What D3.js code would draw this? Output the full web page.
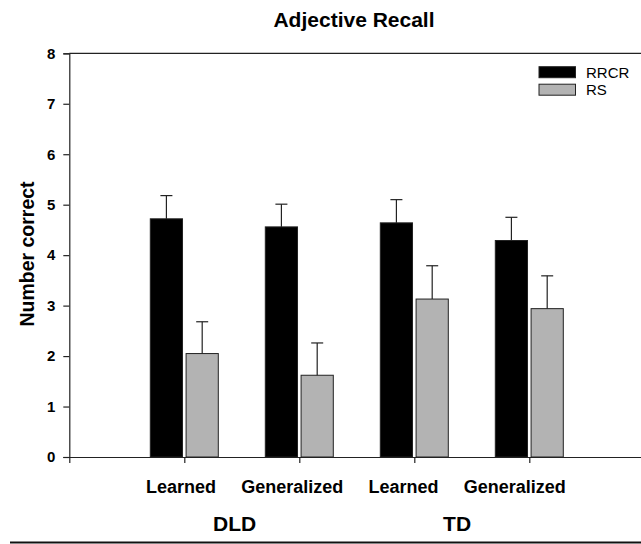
<!DOCTYPE html>
<html>
<head>
<meta charset="utf-8">
<script src="https://cdn.jsdelivr.net/npm/d3@7"></script>
<style>
  html, body { margin: 0; padding: 0; background: #fff; }
  svg { display: block; font-family: Arial, "Liberation Sans", sans-serif; }
</style>
</head>
<body>
<svg id="chart" width="641" height="544"></svg>
<script>
// Mean number of adjectives recalled, with the upper standard error bar
const categories = ["Learned", "Generalized", "Learned", "Generalized"];
const groups = ["DLD", "TD"];
const groupOf = [0, 0, 1, 1];
const seriesNames = ["RRCR", "RS"];
const seriesColors = ["#000000", "#b3b3b3"];
const rrcrMeans = [4.72, 4.56, 4.64, 4.29];
const rrcrErrors = [0.46, 0.45, 0.46, 0.46];
const rsMeans = [2.05, 1.62, 3.13, 2.94];
const rsErrors = [0.63, 0.64, 0.66, 0.65];
const yTicks = [0, 1, 2, 3, 4, 5, 6, 7, 8];

const svg = d3.select("#chart");
const plotLeft = 69.3, plotTop = 53.3, plotBottom = 457;

// Categories sit at positions 1..4 on a 0..5 axis that runs past the right edge
const x = d3.scaleLinear().domain([0, 5]).range([plotLeft, plotLeft + 575]);
const xLabel = d3.scaleLinear().domain([0, 5]).range([plotLeft + 0.6, plotLeft + 556.6]);
const y = d3.scaleLinear().domain([0, 8]).range([plotBottom, plotTop]);
const inner = d3.scaleBand().domain(seriesNames).range([-34, 34]).paddingInner(0.1);

const series = [
  { name: "RRCR", means: rrcrMeans, errs: rrcrErrors },
  { name: "RS", means: rsMeans, errs: rsErrors }
];

// Frame: top border line
svg.append("line")
  .attr("x1", plotLeft).attr("x2", 641)
  .attr("y1", plotTop).attr("y2", plotTop)
  .attr("stroke", "#222").attr("stroke-width", 1.2);

// Bars and error bars
series.forEach((s, si) => {
  const g = svg.append("g");
  s.means.forEach((m, i) => {
    const cx = x(i + 1) + inner(s.name);
    const w = inner.bandwidth();
    g.append("rect")
      .attr("x", cx).attr("y", y(m))
      .attr("width", w).attr("height", y(0) - y(m))
      .attr("fill", seriesColors[si])
      .attr("stroke", "#222").attr("stroke-width", 1);
    const mid = cx + w / 2;
    g.append("line")
      .attr("x1", mid).attr("x2", mid)
      .attr("y1", y(m)).attr("y2", y(m + s.errs[i]))
      .attr("stroke", "#222").attr("stroke-width", 1.2);
    g.append("line")
      .attr("x1", mid - 6).attr("x2", mid + 6)
      .attr("y1", y(m + s.errs[i])).attr("y2", y(m + s.errs[i]))
      .attr("stroke", "#222").attr("stroke-width", 1.2);
  });
});

// Y axis
const yAxis = svg.append("g")
  .attr("transform", `translate(${plotLeft},0)`)
  .call(d3.axisLeft(y).tickValues(yTicks).tickFormat(d3.format("d")).tickSize(6).tickPadding(8));
yAxis.select(".domain").attr("stroke", "#222").attr("stroke-width", 1.2);
yAxis.selectAll(".tick line").attr("stroke", "#222").attr("stroke-width", 1.2);
yAxis.selectAll(".tick text")
  .attr("font-size", 15).attr("font-weight", "bold").attr("fill", "#000")
  .attr("font-family", "Arial, 'Liberation Sans', sans-serif");

// X axis: baseline with small ticks below each category
const xAxis = svg.append("g")
  .attr("transform", `translate(0,${plotBottom})`)
  .call(d3.axisBottom(x).tickValues([1, 2, 3, 4]).tickFormat("").tickSize(6));
xAxis.select(".domain").attr("stroke", "#222").attr("stroke-width", 1.2);
xAxis.selectAll(".tick line").attr("stroke", "#222").attr("stroke-width", 1.2);

// Category labels
svg.append("g").selectAll("text")
  .data(categories)
  .join("text")
  .attr("x", (d, i) => xLabel(i + 1))
  .attr("y", 493)
  .attr("text-anchor", "middle")
  .attr("font-size", 18).attr("font-weight", "bold").attr("fill", "#000")
  .text(d => d);

// Group labels
svg.append("g").selectAll("text")
  .data(groups)
  .join("text")
  .attr("x", (d, gi) => {
    const idx = groupOf.map((v, i) => v === gi ? i + 1 : null).filter(v => v !== null);
    return xLabel(d3.mean(idx)) - 2;
  })
  .attr("y", 530.5)
  .attr("text-anchor", "middle")
  .attr("font-size", 21).attr("font-weight", "bold").attr("fill", "#000")
  .text(d => d);

// Title
svg.append("text")
  .attr("x", 354).attr("y", 27)
  .attr("text-anchor", "middle")
  .attr("font-size", 21).attr("font-weight", "bold").attr("fill", "#000")
  .text("Adjective Recall");

// Y axis title
svg.append("text")
  .attr("transform", `translate(34,254) rotate(-90)`)
  .attr("text-anchor", "middle")
  .attr("font-size", 19.5).attr("font-weight", "bold").attr("fill", "#000")
  .text("Number correct");

// Legend
const legend = svg.append("g").attr("transform", "translate(539,66.7)");
seriesNames.forEach((name, i) => {
  legend.append("rect")
    .attr("x", 0).attr("y", i * 17.5)
    .attr("width", 36.5).attr("height", 11)
    .attr("fill", seriesColors[i])
    .attr("stroke", "#222").attr("stroke-width", 1);
  legend.append("text")
    .attr("x", 47).attr("y", i * 17.5 + 10.8)
    .attr("font-size", 15).attr("fill", "#000")
    .text(name);
});

// Rule under the figure
svg.append("line")
  .attr("x1", 10).attr("x2", 641)
  .attr("y1", 542.5).attr("y2", 542.5)
  .attr("stroke", "#111").attr("stroke-width", 2);
</script>
</body>
</html>
